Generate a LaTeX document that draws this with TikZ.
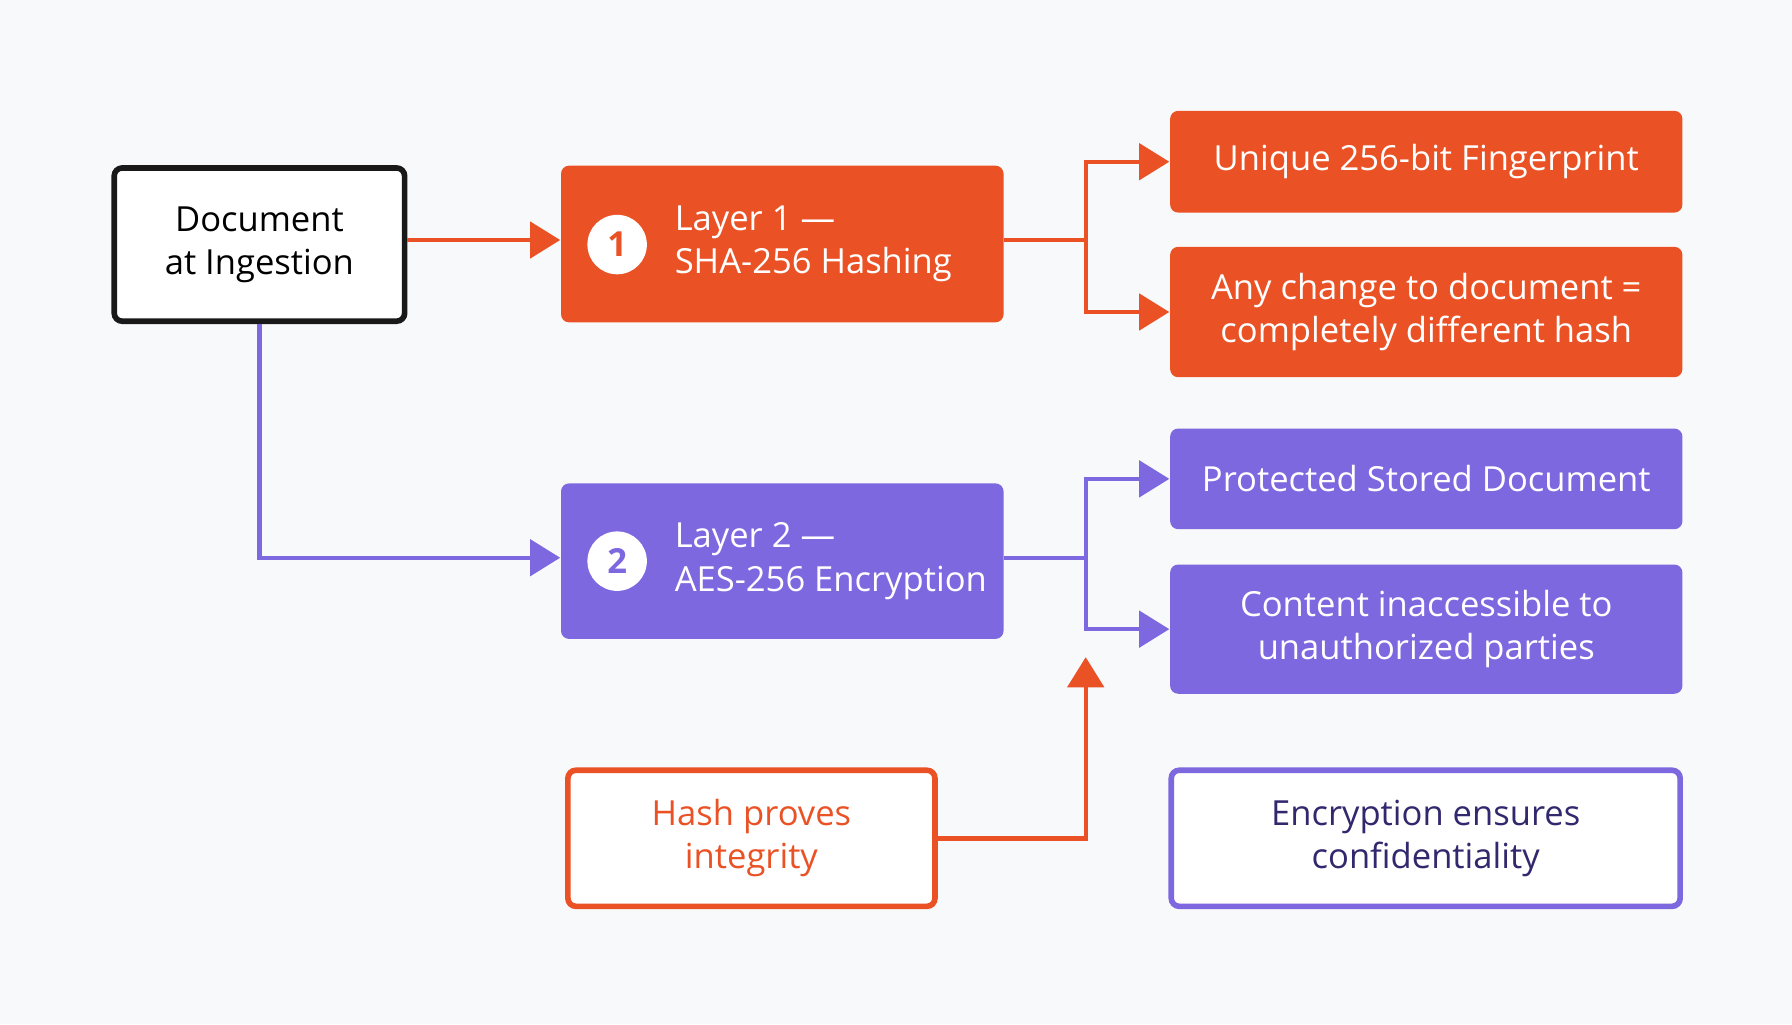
\documentclass[tikz,border=0pt]{standalone}
\usepackage{fontspec}
\setmainfont{Open Sans}
\usetikzlibrary{calc}
\usetikzlibrary{arrows.meta}
\usetikzlibrary{positioning}
\definecolor{hashorange}{RGB}{234, 82, 38}
\definecolor{encpurple}{RGB}{125, 104, 224}
\definecolor{notepurple}{RGB}{50, 40, 110}
\definecolor{bgwhite}{RGB}{248, 249, 250}
\tikzset{
  box/.style={rectangle, rounded corners=2pt, align=center, font=\fontsize{8.6}{10.8}\selectfont},
  hashbox/.style={box, fill=hashorange, text=white},
  encbox/.style={box, fill=encpurple, text=white},
  badge/.style={circle, fill=white, minimum size=0.52cm, inner sep=0pt, font=\fontsize{8.6}{10}\selectfont\bfseries},
  link/.style={line width=1.1pt, -{Triangle[length=7.5pt,width=9pt]}},
}
\begin{document}
\begin{tikzpicture}[x=0.01cm, y=-0.01cm]
            \fill[bgwhite] (0,0) rectangle (1568,896);
            \node[box, draw=black!90, line width=1.4pt, fill=white, minimum width=2.54cm, minimum height=1.34cm] (doc) at (227,214) {Document\\at Ingestion};
            \node[hashbox, minimum width=3.87cm, minimum height=1.37cm] (layerA) at (684.5,213.5) {};
            \node[encbox, minimum width=3.87cm, minimum height=1.36cm] (layerB) at (684.5,491) {};
            \node[badge, text=hashorange] (oneA) at (540,214) {1};
            \node[badge, text=encpurple] (oneB) at (540,491) {2};
            \node[box, text=white, align=left, anchor=west] at (578,213.5) {Layer 1 —\\SHA-256 Hashing};
            \node[box, text=white, align=left, anchor=west] at (578,491) {Layer 2 —\\AES-256 Encryption};
            \node[hashbox, minimum width=4.48cm, minimum height=0.89cm] (unique) at (1248,141.5) {Unique 256-bit Fingerprint};
            \node[hashbox, minimum width=4.48cm, minimum height=1.14cm] (change) at (1248,273) {Any change to document =\\completely different hash};
            \node[encbox, minimum width=4.48cm, minimum height=0.88cm] (stored) at (1248,419) {Protected Stored Document};
            \node[encbox, minimum width=4.48cm, minimum height=1.13cm] (hidden) at (1248,550.5) {Content inaccessible to\\unauthorized parties};
            \node[box, draw=hashorange, line width=1.4pt, fill=white, text=hashorange, minimum width=3.21cm, minimum height=1.19cm] (integrity) at (657.5,733.5) {Hash proves\\integrity};
            \node[box, draw=encpurple, line width=1.4pt, fill=white, text=notepurple, minimum width=4.45cm, minimum height=1.19cm] (confid) at (1247.5,733.5) {Encryption ensures\\confidentiality};
            \coordinate (tipA) at (950,575);
            % connectors
            \draw[link, hashorange] (doc.east |- 0,210) -- (layerA.west |- 0,210);
            \draw[link, encpurple] (doc.south) |- (layerB.west |- 0,488);
            \draw[link, hashorange] (layerA.east |- 0,210) -- (950,210) |- (unique.west);
            \draw[link, hashorange] (layerA.east |- 0,210) -- (950,210) |- (change.west);
            \draw[link, encpurple] (layerB.east |- 0,488) -- (950,488) |- (stored.west);
            \draw[link, encpurple] (layerB.east |- 0,488) -- (950,488) |- (hidden.west);
            \draw[link, hashorange] (integrity.east) -| (tipA);
\end{tikzpicture}
\end{document}
